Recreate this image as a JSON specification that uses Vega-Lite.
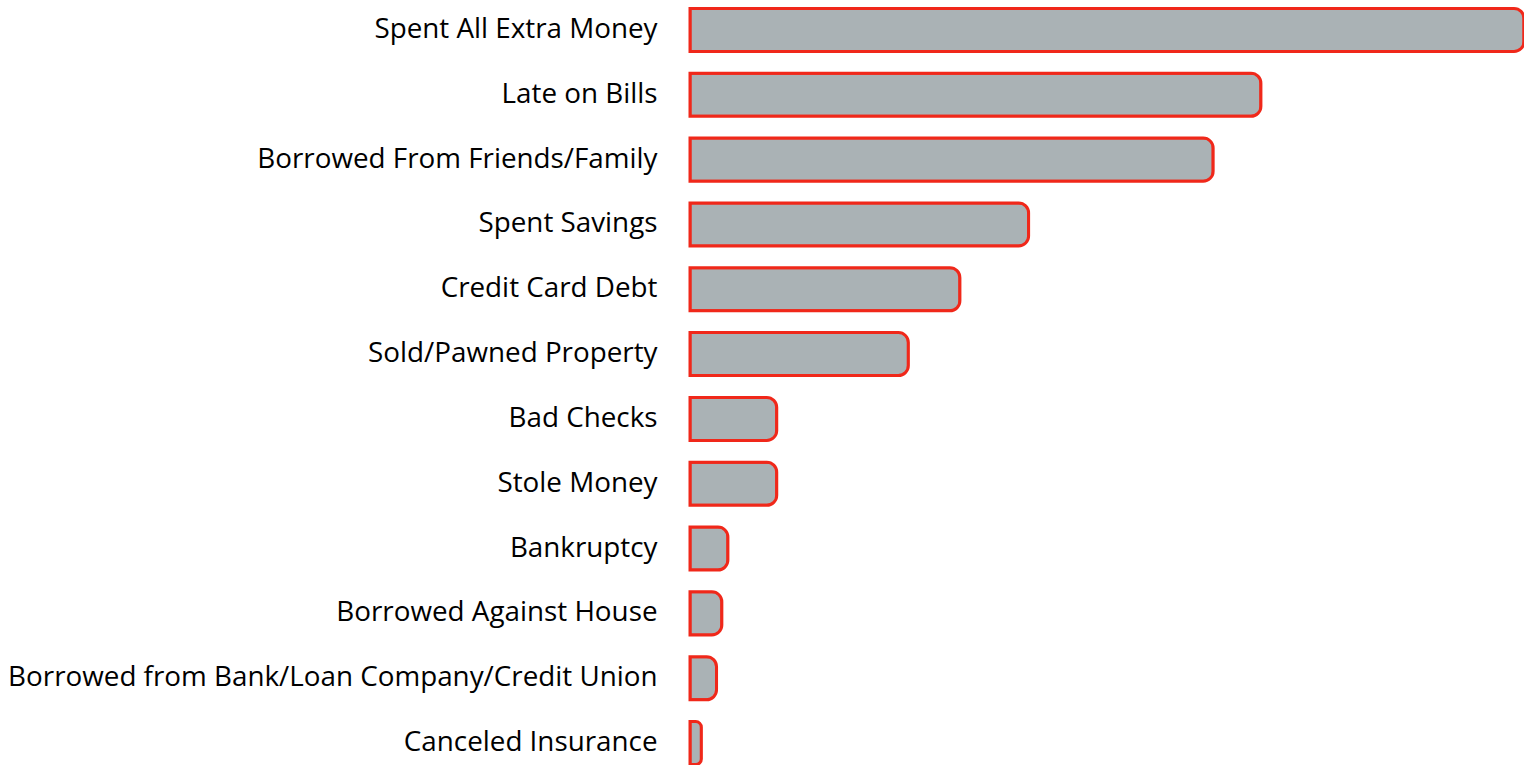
{
  "$schema": "https://vega.github.io/schema/vega-lite/v6.json",
  "width": 834,
  "height": 765,
  "autosize": {"type": "none"},
  "padding": {"left": 690, "top": 0, "right": 0, "bottom": 0},
  "background": "white",
  "config": {"view": {"stroke": null}},
  "data": {
    "values": [
      {"category": "Spent All Extra Money", "value": 55.0},
      {"category": "Late on Bills", "value": 37.65},
      {"category": "Borrowed From Friends/Family", "value": 34.5},
      {"category": "Spent Savings", "value": 22.33},
      {"category": "Credit Card Debt", "value": 17.8},
      {"category": "Sold/Pawned Property", "value": 14.4},
      {"category": "Bad Checks", "value": 5.72},
      {"category": "Stole Money", "value": 5.72},
      {"category": "Bankruptcy", "value": 2.5},
      {"category": "Borrowed Against House", "value": 2.1},
      {"category": "Borrowed from Bank/Loan Company/Credit Union", "value": 1.75},
      {"category": "Canceled Insurance", "value": 0.75}
    ]
  },
  "mark": {
    "type": "bar",
    "fill": "#aab2b5",
    "stroke": "#f0281a",
    "strokeWidth": 3,
    "cornerRadiusEnd": 10
  },
  "encoding": {
    "y": {
      "field": "category",
      "type": "nominal",
      "sort": null,
      "scale": {"paddingInner": 0.336, "paddingOuter": 0.13, "range": [0, 773]},
      "axis": {
        "title": null,
        "domain": false,
        "ticks": false,
        "labelPadding": 33,
        "labelFont": "Open Sans",
        "labelFontSize": 27.8,
        "labelColor": "#000000",
        "labelLimit": 0
      }
    },
    "x": {
      "field": "value",
      "type": "quantitative",
      "scale": {"domain": [0, 55], "nice": false},
      "axis": null
    }
  }
}
